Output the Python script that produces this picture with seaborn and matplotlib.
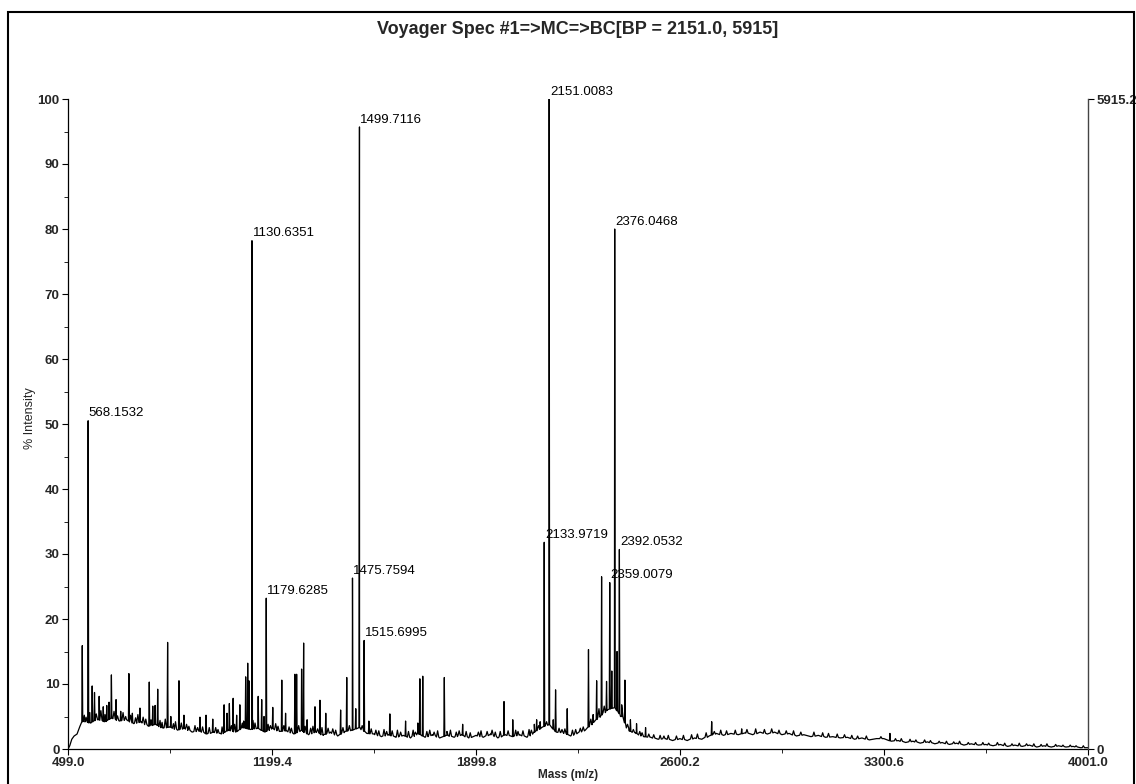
import numpy as np
import pandas as pd
import matplotlib
matplotlib.use("Agg")
import matplotlib.pyplot as plt
import seaborn as sns
from matplotlib.patches import Rectangle

# ---------------- data ----------------
title = "Voyager Spec #1=>MC=>BC[BP = 2151.0, 5915]"
x_ticks = [499.0, 1199.4, 1899.8, 2600.2, 3300.6, 4001.0]
y_ticks = [0, 10, 20, 30, 40, 50, 60, 70, 80, 90, 100]
right_ticks = ["0", "5915.2"]

# baseline (noise floor) of the spectrum, % intensity
base_mz = [499, 505, 512, 520, 530, 540, 545,
           550, 575, 600, 625, 650, 675, 700, 725, 750, 775, 800, 825, 850, 875, 900, 925, 950, 975,
           1000, 1025, 1050, 1075, 1100, 1125, 1150, 1175, 1200, 1225, 1250, 1275, 1300, 1325, 1350, 1375,
           1400, 1425, 1450, 1475, 1500, 1525, 1550, 1575, 1600, 1625, 1650, 1675, 1700, 1725, 1750, 1775,
           1800, 1825, 1850, 1875, 1900, 1925, 1950, 1975, 2000, 2025, 2050, 2075, 2100, 2125, 2150, 2175,
           2200, 2225, 2250, 2275, 2300, 2325, 2350, 2375, 2400, 2425, 2450, 2475, 2500, 2525, 2550, 2575,
           2600, 2625, 2650, 2675, 2700, 2725, 2750, 2775, 2800, 2825, 2850, 2875, 2900, 2925, 2950, 2975,
           3000, 3025, 3050, 3075, 3100, 3125, 3150, 3175, 3200, 3225, 3250, 3275, 3300, 3325, 3350, 3375,
           3400, 3425, 3450, 3475, 3500, 3525, 3550, 3575, 3600, 3625, 3650, 3675, 3700, 3725, 3750, 3775,
           3800, 3825, 3850, 3875, 3900, 3925, 3950, 3975, 4001]
base_int = [0.0, 0.5, 1.5, 2.0, 2.3, 3.5, 4.0,
            4.3, 4.0, 4.6, 4.2, 4.8, 4.3, 4.5, 3.9, 4.2, 3.5, 3.8, 3.2, 3.4, 2.9, 3.2, 2.6, 2.8, 2.3,
            2.6, 2.3, 2.9, 2.6, 3.3, 3.0, 3.2, 2.6, 3.2, 2.7, 2.8, 2.3, 2.9, 2.2, 2.7, 2.1,
            2.6, 2.0, 2.7, 2.9, 3.3, 2.4, 2.3, 1.9, 2.2, 1.8, 2.1, 1.7, 2.4, 1.8, 2.2, 1.7,
            2.1, 1.8, 2.2, 1.7, 2.1, 1.8, 2.3, 1.7, 2.2, 1.9, 2.2, 1.8, 2.6, 3.3, 3.8, 2.6,
            2.5, 2.0, 2.5, 2.9, 4.0, 5.0, 6.0, 6.4, 5.0, 2.8, 2.4, 1.9, 1.8, 1.5, 1.6, 1.3,
            1.6, 1.3, 1.7, 1.5, 2.0, 2.4, 2.1, 2.4, 2.2, 2.5, 2.2, 2.6, 2.3, 2.6, 2.2, 2.4,
            2.0, 2.2, 1.9, 2.1, 1.8, 1.9, 1.7, 1.8, 1.5, 1.7, 1.4, 1.6, 1.6, 1.2, 1.3, 1.0,
            1.2, 0.9, 1.1, 0.8, 1.0, 0.7, 0.9, 0.6, 0.8, 0.6, 0.7, 0.5, 0.7, 0.4, 0.6, 0.4,
            0.6, 0.3, 0.5, 0.3, 0.5, 0.3, 0.4, 0.2, 0.2]

# small noise spikes on the baseline (m/z, % intensity)
noise_mz = [555, 561, 574, 596, 612, 626, 657, 669, 688, 697, 714, 731, 739, 757, 766, 784, 815, 822,
            833, 861, 868, 888, 906, 914, 935, 944, 961, 984, 1006, 1014, 1028, 1060, 1071, 1098, 1102,
            1134, 1141, 1186, 1194, 1212, 1220, 1240, 1258, 1266, 1291, 1313, 1332, 1340, 1356, 1371,
            1392, 1408, 1418, 1443, 1465, 1509, 1540, 1556, 1566, 1584, 1593, 1612, 1630, 1641, 1668,
            1684, 1692, 1731, 1741, 1756, 1768, 1800, 1812, 1832, 1842, 1866, 1880, 1908, 1917, 1938,
            1955, 1966, 1983, 2010, 2036, 2044, 2061, 2082, 2090, 2115, 2142, 2185, 2195, 2205, 2231,
            2242, 2258, 2268, 2294, 2322, 2340, 2400, 2420, 2440, 2462, 2470, 2493, 2510, 2532, 2545,
            2560, 2588, 2612, 2640, 2660, 2690, 2718, 2740, 2760, 2790, 2830, 2860, 2890, 2915, 2940,
            2965, 2990, 3015, 3060, 3090, 3110, 3140, 3165, 3190, 3210, 3240, 3290, 3340, 3360, 3390,
            3410, 3440, 3460, 3490, 3515, 3540, 3560, 3590, 3615, 3640, 3660, 3690, 3715, 3740, 3765,
            3790, 3815, 3840, 3860, 3890, 3915, 3940, 3960, 3985]
noise_int = [5.2, 4.9, 5.6, 5.4, 5.9, 5.3, 5.8, 5.1, 5.6, 5.0, 5.2, 4.8, 5.3, 4.9, 4.6, 4.5, 4.4, 4.1,
             4.6, 3.9, 4.2, 4.0, 3.8, 3.5, 3.6, 3.3, 3.4, 3.3, 3.3, 3.0, 3.4, 3.6, 3.8, 4.0, 4.3,
             4.4, 4.0, 3.8, 3.6, 3.9, 3.5, 3.6, 3.4, 3.2, 3.6, 3.5, 3.2, 3.5, 3.1, 3.3,
             3.2, 3.1, 2.9, 3.3, 3.6, 3.6, 3.1, 2.9, 2.8, 3.0, 2.7, 2.8, 2.9, 2.6, 2.7,
             2.9, 2.6, 2.7, 2.9, 2.6, 2.8, 2.7, 2.9, 2.6, 2.8, 2.7, 2.5, 2.6, 2.8, 2.7,
             2.9, 2.6, 2.7, 2.8, 2.9, 2.7, 2.8, 3.0, 2.9, 3.6, 4.2, 3.2, 3.0, 3.1, 2.9,
             3.0, 3.2, 3.4, 4.6, 6.2, 6.6, 6.8, 3.8, 3.0, 2.7, 2.5, 2.3, 2.2, 2.1, 2.0,
             2.1, 2.0, 2.1, 2.2, 2.3, 2.5, 2.7, 2.9, 2.8, 2.9, 3.0, 3.1, 3.0, 3.1, 2.9,
             2.8, 2.8, 2.6, 2.6, 2.5, 2.4, 2.3, 2.2, 2.1, 2.0, 2.0, 1.9, 1.6, 1.6, 1.5,
             1.4, 1.4, 1.3, 1.2, 1.2, 1.1, 1.2, 1.0, 1.0, 1.0, 0.9, 1.0, 0.9, 0.8, 0.9,
             0.8, 0.8, 0.7, 0.8, 0.7, 0.6, 0.6, 0.5, 0.5]

# labelled peaks (m/z, % intensity)
label_mz = [568.1532, 1130.6351, 1179.6285, 1475.7594, 1499.7116, 1515.6995,
            2133.9719, 2151.0083, 2359.0079, 2376.0468, 2392.0532]
label_int = [50.5, 78.2, 23.2, 26.3, 95.7, 16.7, 31.8, 100.0, 25.6, 80.0, 30.7]

# other peaks (m/z, % intensity)
peak_mz = [548, 582, 590, 606, 620, 632, 640, 648, 664, 680, 708, 720, 746, 778, 790, 798, 807,
           841, 852, 880, 897, 952, 973, 996, 1035, 1045, 1053, 1066, 1078, 1089, 1109, 1116, 1120,
           1152, 1164, 1172, 1202, 1233, 1246, 1278, 1284, 1301, 1308, 1320, 1347, 1364, 1384, 1435,
           1456, 1487, 1532, 1604, 1658, 1700, 1707, 1717, 1791, 1854, 1996, 2026, 2100, 2108, 2120,
           2165, 2173, 2213, 2286, 2302, 2314, 2331, 2348, 2366, 2384, 2411, 2430, 2451, 2482,
           2709, 2812, 3321]
peak_int = [15.9, 9.7, 8.7, 8.1, 6.5, 6.7, 7.2, 11.4, 7.6, 5.8, 11.6, 5.5, 6.3, 10.3, 6.6, 6.7, 9.2,
            16.4, 5.0, 10.5, 5.2, 4.9, 5.2, 4.6, 6.8, 5.5, 7.0, 7.8, 5.2, 6.8, 11.1, 13.2, 10.5,
            8.1, 7.6, 5.0, 6.4, 10.6, 5.5, 11.5, 11.5, 12.3, 16.3, 4.5, 6.5, 7.5, 5.5, 6.0,
            11.0, 6.2, 4.3, 5.4, 4.3, 4.0, 10.8, 11.2, 11.0, 3.8, 7.3, 4.5, 3.8, 4.5, 4.2,
            4.5, 9.1, 6.2, 15.3, 5.3, 10.5, 26.5, 10.4, 12.0, 15.0, 10.6, 4.5, 3.9, 3.3,
            4.2, 3.1, 2.4]

# ---------------- build trace ----------------
bmz = np.array(base_mz, dtype=float)
bint = np.array(base_int, dtype=float)
xs = list(bmz)
ys = list(bint)


def add_peaks(mzs, ints, hw):
    for m, h in zip(mzs, ints):
        b = np.interp(m, bmz, bint)
        xs.extend([m - hw, m, m + hw])
        ys.extend([b, h, b])


add_peaks(noise_mz, noise_int, 4.0)
add_peaks(label_mz + peak_mz, label_int + peak_int, 1.6)
order = np.argsort(xs, kind="stable")
df = pd.DataFrame({"mz": np.array(xs)[order], "intensity": np.array(ys)[order]})

# ---------------- plot ----------------
sns.set_style("ticks")
plt.rcParams["font.family"] = ["Liberation Sans", "DejaVu Sans"]

W, H = 1136, 784
fig = plt.figure(figsize=(W / 100, H / 100), dpi=100)
fig.patch.set_facecolor("white")
ax = fig.add_axes([68 / W, 1 - 749 / H, (1088 - 68) / W, (749 - 99) / H])

sns.lineplot(data=df, x="mz", y="intensity", ax=ax, color="black", linewidth=0.9,
             estimator=None, sort=False)

ax.set_xlim(x_ticks[0], x_ticks[-1])
ax.set_ylim(0, 100)
ax.set_xticks(x_ticks)
ax.set_xticklabels([f"{v:.1f}" for v in x_ticks], fontsize=9.5, fontweight="bold")
ax.set_xticks([(a + b) / 2 for a, b in zip(x_ticks[:-1], x_ticks[1:])], minor=True)
ax.set_yticks(y_ticks)
ax.set_yticklabels([str(v) for v in y_ticks], fontsize=9.5, fontweight="bold")
ax.set_yticks([v + 5 for v in y_ticks[:-1]], minor=True)
ax.tick_params(axis="both", which="major", direction="out", length=4, width=0.8, color="black", pad=2)
ax.tick_params(axis="both", which="minor", direction="out", length=3, width=0.6, color="black")
ax.set_xlabel("")
ax.set_ylabel("")
for s in ["left", "bottom"]:
    ax.spines[s].set_color("black")
    ax.spines[s].set_linewidth(0.9)
ax.spines["top"].set_visible(False)
ax.spines["right"].set_visible(False)

ax2 = ax.twinx()
ax2.set_ylim(0, 100)
ax2.set_yticks([0, 100])
ax2.set_yticklabels(right_ticks, fontsize=9.5, fontweight="bold")
ax2.tick_params(axis="y", direction="out", length=4, width=0.8, color="black", pad=2)
for s in ["left", "top", "bottom"]:
    ax2.spines[s].set_visible(False)
ax2.spines["right"].set_color("#444444")
ax2.spines["right"].set_linewidth(1.0)

for m, h in zip(label_mz, label_int):
    ax.annotate(f"{m:.4f}", xy=(m, h), xytext=(0.5, 1.0), textcoords="offset points",
                ha="left", va="bottom", fontsize=9.5, color="black", annotation_clip=False)

fig.text(578 / W, 1 - 30 / H, title, ha="center", va="center", fontsize=13, fontweight="bold")
fig.text(568 / W, 1 - 775 / H, "Mass (m/z)", ha="center", va="center", fontsize=8.5, fontweight="bold")
fig.text(30 / W, 1 - 418 / H, "% Intensity", ha="center", va="center", rotation=90, fontsize=9)

fig.add_artist(Rectangle((8 / W, -0.05), (1134 - 8) / W, 1.05 - 12 / H, transform=fig.transFigure,
                         fill=False, edgecolor="black", linewidth=1.5))

fig.savefig("out.png", dpi=100)
